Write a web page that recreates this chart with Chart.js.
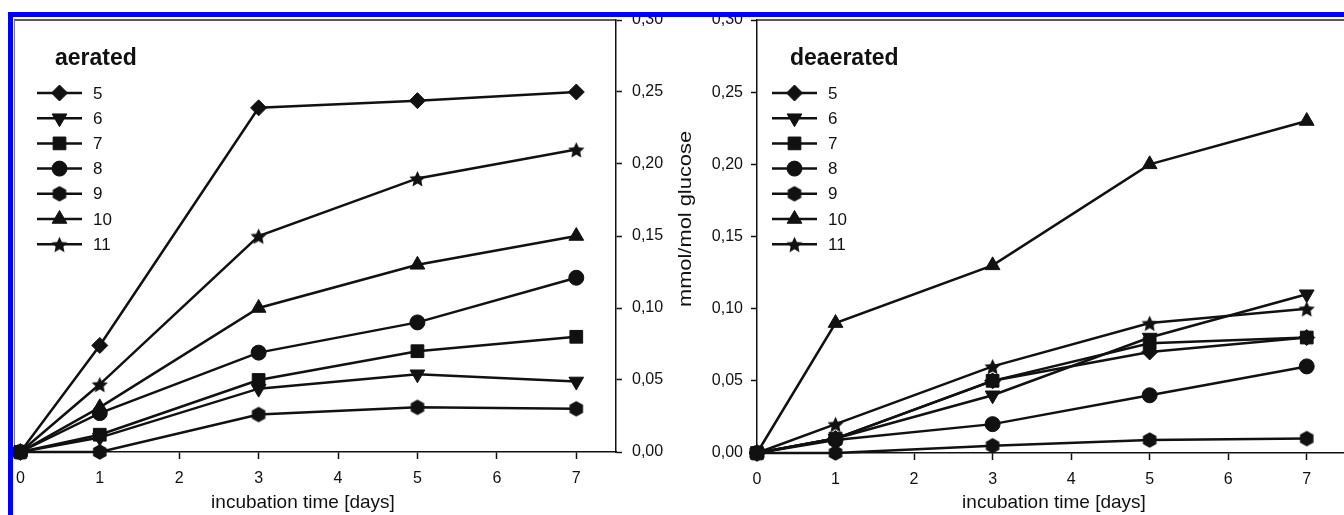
<!DOCTYPE html>
<html>
<head>
<meta charset="utf-8">
<script src="https://cdn.jsdelivr.net/npm/chart.js@4.4.0/dist/chart.umd.min.js"></script>
<style>
  html, body { margin: 0; padding: 0; background: #fff; width: 1344px; height: 515px; overflow: hidden; position: relative; }
  #left { position: absolute; left: 0; top: 0; }
  #right { position: absolute; left: 676px; top: 0; }
  .blue { position: absolute; left: 8px; top: 12px; width: 1400px; height: 600px; border-top: 5px solid #0000ff; border-left: 5px solid #0000ff; pointer-events: none; z-index: 10; }
</style>
</head>
<body>
<canvas id="left" width="680" height="515"></canvas>
<canvas id="right" width="680" height="515"></canvas>
<div class="blue"></div>
<script>
// x positions (days) and axis ticks
var days = [0, 1, 3, 5, 7];
var xTicks = [0, 1, 2, 3, 4, 5, 6, 7];
var yTicks = [0, 0.05, 0.10, 0.15, 0.20, 0.25, 0.30];
var seriesNames = ['5', '6', '7', '8', '9', '10', '11'];

// aerated
var aer5  = [0, 0.074, 0.239, 0.244, 0.250];
var aer6  = [0, 0.010, 0.044, 0.054, 0.049];
var aer7  = [0, 0.012, 0.050, 0.070, 0.080];
var aer8  = [0, 0.027, 0.069, 0.090, 0.121];
var aer9  = [0, 0.000, 0.026, 0.031, 0.030];
var aer10 = [0, 0.031, 0.100, 0.130, 0.150];
var aer11 = [0, 0.047, 0.150, 0.190, 0.210];

// deaerated
var dea5  = [0, 0.010, 0.050, 0.070, 0.080];
var dea6  = [0, 0.010, 0.040, 0.080, 0.110];
var dea7  = [0, 0.010, 0.050, 0.076, 0.080];
var dea8  = [0, 0.009, 0.020, 0.040, 0.060];
var dea9  = [0, 0.000, 0.005, 0.009, 0.010];
var dea10 = [0, 0.090, 0.130, 0.200, 0.230];
var dea11 = [0, 0.020, 0.060, 0.090, 0.100];

var FONT = '"Liberation Sans", Arial, Helvetica, sans-serif';
var INK = '#111';
Chart.defaults.font.family = FONT;
Chart.defaults.color = INK;

function makeHexagon(r) {
  var c = document.createElement('canvas');
  c.width = c.height = Math.ceil(r * 2 + 2);
  var ctx = c.getContext('2d');
  var m = c.width / 2;
  ctx.beginPath();
  for (var i = 0; i < 6; i++) {
    var a = Math.PI / 2 + i * Math.PI / 3;
    ctx.lineTo(m + r * Math.cos(a), m - r * Math.sin(a));
  }
  ctx.closePath();
  ctx.fillStyle = INK;
  ctx.fill();
  return c;
}

function makeStar(r) {
  var c = document.createElement('canvas');
  c.width = c.height = Math.ceil(r * 2 + 2);
  var ctx = c.getContext('2d');
  var m = c.width / 2;
  ctx.beginPath();
  for (var i = 0; i < 10; i++) {
    var rr = i % 2 === 0 ? r : r * 0.48;
    var a = Math.PI / 2 + i * Math.PI / 5;
    ctx.lineTo(m + rr * Math.cos(a), m - rr * Math.sin(a) + 1);
  }
  ctx.closePath();
  ctx.fillStyle = INK;
  ctx.fill();
  return c;
}

var hexImg = makeHexagon(7.8);
var starImg = makeStar(8.5);
var markerStyles = ['rectRot', 'triangle', 'rect', 'circle', hexImg, 'triangle', starImg];
var markerRot = [0, 180, 0, 0, 0, 0, 0];
var markerSize = [8, 8.5, 9, 7.5, 7.5, 8.5, 8];

function buildSets(list) {
  return list.map(function (vals, i) {
    return {
      label: seriesNames[i],
      data: days.map(function (d, k) { return { x: d, y: vals[k] }; }),
      borderColor: INK,
      borderWidth: 2.5,
      backgroundColor: INK,
      pointStyle: markerStyles[i],
      pointRotation: markerRot[i],
      pointRadius: markerSize[i],
      pointBackgroundColor: INK,
      pointBorderColor: INK,
      pointBorderWidth: 1,
      tension: 0,
      fill: false,
      clip: false
    };
  });
}

// legend, panel title and axis titles drawn inside the canvas
var panelLegend = {
  id: 'panelLegend',
  afterDatasetsDraw: function (chart, args, o) {
    var ctx = chart.ctx;
    ctx.save();
    ctx.fillStyle = INK;
    ctx.font = 'bold 23px ' + FONT;
    ctx.textBaseline = 'alphabetic';
    ctx.textAlign = 'left';
    ctx.fillText(o.title, o.titleX, o.titleY);
    ctx.font = '17px ' + FONT;
    ctx.textBaseline = 'middle';
    chart.data.datasets.forEach(function (ds, i) {
      var y = o.top + i * o.gap;
      ctx.beginPath();
      ctx.moveTo(o.lineX, y);
      ctx.lineTo(o.lineX + o.lineLen, y);
      ctx.lineWidth = 2.5;
      ctx.strokeStyle = INK;
      ctx.stroke();
      ctx.lineWidth = 1;
      Chart.helpers.drawPoint(ctx, {
        pointStyle: ds.pointStyle, rotation: ds.pointRotation,
        radius: ds.pointRadius, borderWidth: 1
      }, o.lineX + o.lineLen / 2, y);
      ctx.fillText(ds.label, o.textX, y + 1);
    });
    // x axis title
    ctx.font = '19px ' + FONT;
    ctx.textAlign = 'center';
    ctx.fillText(o.xTitle, o.xTitleX, 503);
    if (o.yTitle) {
      ctx.translate(o.yTitleX, o.yTitleY);
      ctx.rotate(-Math.PI / 2);
      ctx.scale(1.15, 1);
      ctx.font = '19px ' + FONT;
      ctx.fillText(o.yTitle, 0, 0);
    }
    ctx.restore();
  }
};

// top / left frame lines of the plot box
var frameLines = {
  id: 'frameLines',
  beforeDatasetsDraw: function (chart, args, o) {
    var a = chart.chartArea, ctx = chart.ctx;
    ctx.save();
    ctx.strokeStyle = '#222';
    ctx.lineWidth = 1.5;
    ctx.beginPath();
    ctx.moveTo(a.left, a.top);
    ctx.lineTo(a.right, a.top);
    ctx.stroke();
    if (o.leftLine) {
      ctx.strokeStyle = '#777';
      ctx.lineWidth = 1;
      ctx.beginPath();
      ctx.moveTo(a.left + 0.5, a.top);
      ctx.lineTo(a.left + 0.5, a.bottom);
      ctx.stroke();
    }
    ctx.restore();
  }
};

function yLabel(v) { return v.toFixed(2).replace('.', ','); }

function axisGrid(len) {
  return { display: true, drawOnChartArea: false, drawTicks: true, tickLength: len, tickColor: INK, tickWidth: 1.5, color: INK };
}

function makeChart(id, sets, side) {
  var isLeft = side === 'left';
  return new Chart(document.getElementById(id), {
    type: 'line',
    data: { datasets: buildSets(sets) },
    options: {
      responsive: false,
      animation: false,
      layout: { padding: { left: isLeft ? 14 : 0, top: 20, right: 0, bottom: 0 } },
      plugins: {
        legend: { display: false },
        tooltip: { enabled: false },
        panelLegend: isLeft
          ? { title: 'aerated', titleX: 55, titleY: 65, lineX: 37, lineLen: 45, textX: 93, top: 93, gap: 25.2,
              xTitle: 'incubation time [days]', xTitleX: 303 }
          : { title: 'deaerated', titleX: 114, titleY: 65, lineX: 96, lineLen: 45, textX: 152, top: 93, gap: 25.2,
              xTitle: 'incubation time [days]', xTitleX: 378,
              yTitle: 'mmol/mol glucose', yTitleX: 10, yTitleY: 219 },
        frameLines: { leftLine: isLeft }
      },
      scales: {
        x: {
          type: 'linear',
          min: isLeft ? -0.08 : 0,
          max: 7.5,
          afterBuildTicks: function (a) { a.ticks = xTicks.map(function (v) { return { value: v }; }); },
          afterFit: function (a) { a.height = isLeft ? 63 : 62; },
          grid: axisGrid(7),
          border: { display: true, color: INK, width: 1.5 },
          ticks: { color: INK, font: { size: 16 }, padding: 10, maxRotation: 0, autoSkip: false }
        },
        y: {
          position: isLeft ? 'right' : 'left',
          min: 0,
          max: 0.3,
          afterBuildTicks: function (a) { a.ticks = yTicks.map(function (v) { return { value: v }; }); },
          afterFit: function (a) { a.width = isLeft ? 64 : 81; },
          grid: axisGrid(6),
          border: { display: true, color: INK, width: 1.5 },
          ticks: { color: INK, font: { size: 16 }, padding: isLeft ? 10 : 8, callback: yLabel }
        }
      }
    },
    plugins: [frameLines, panelLegend]
  });
}

makeChart('left', [aer5, aer6, aer7, aer8, aer9, aer10, aer11], 'left');
makeChart('right', [dea5, dea6, dea7, dea8, dea9, dea10, dea11], 'right');
</script>
</body>
</html>
